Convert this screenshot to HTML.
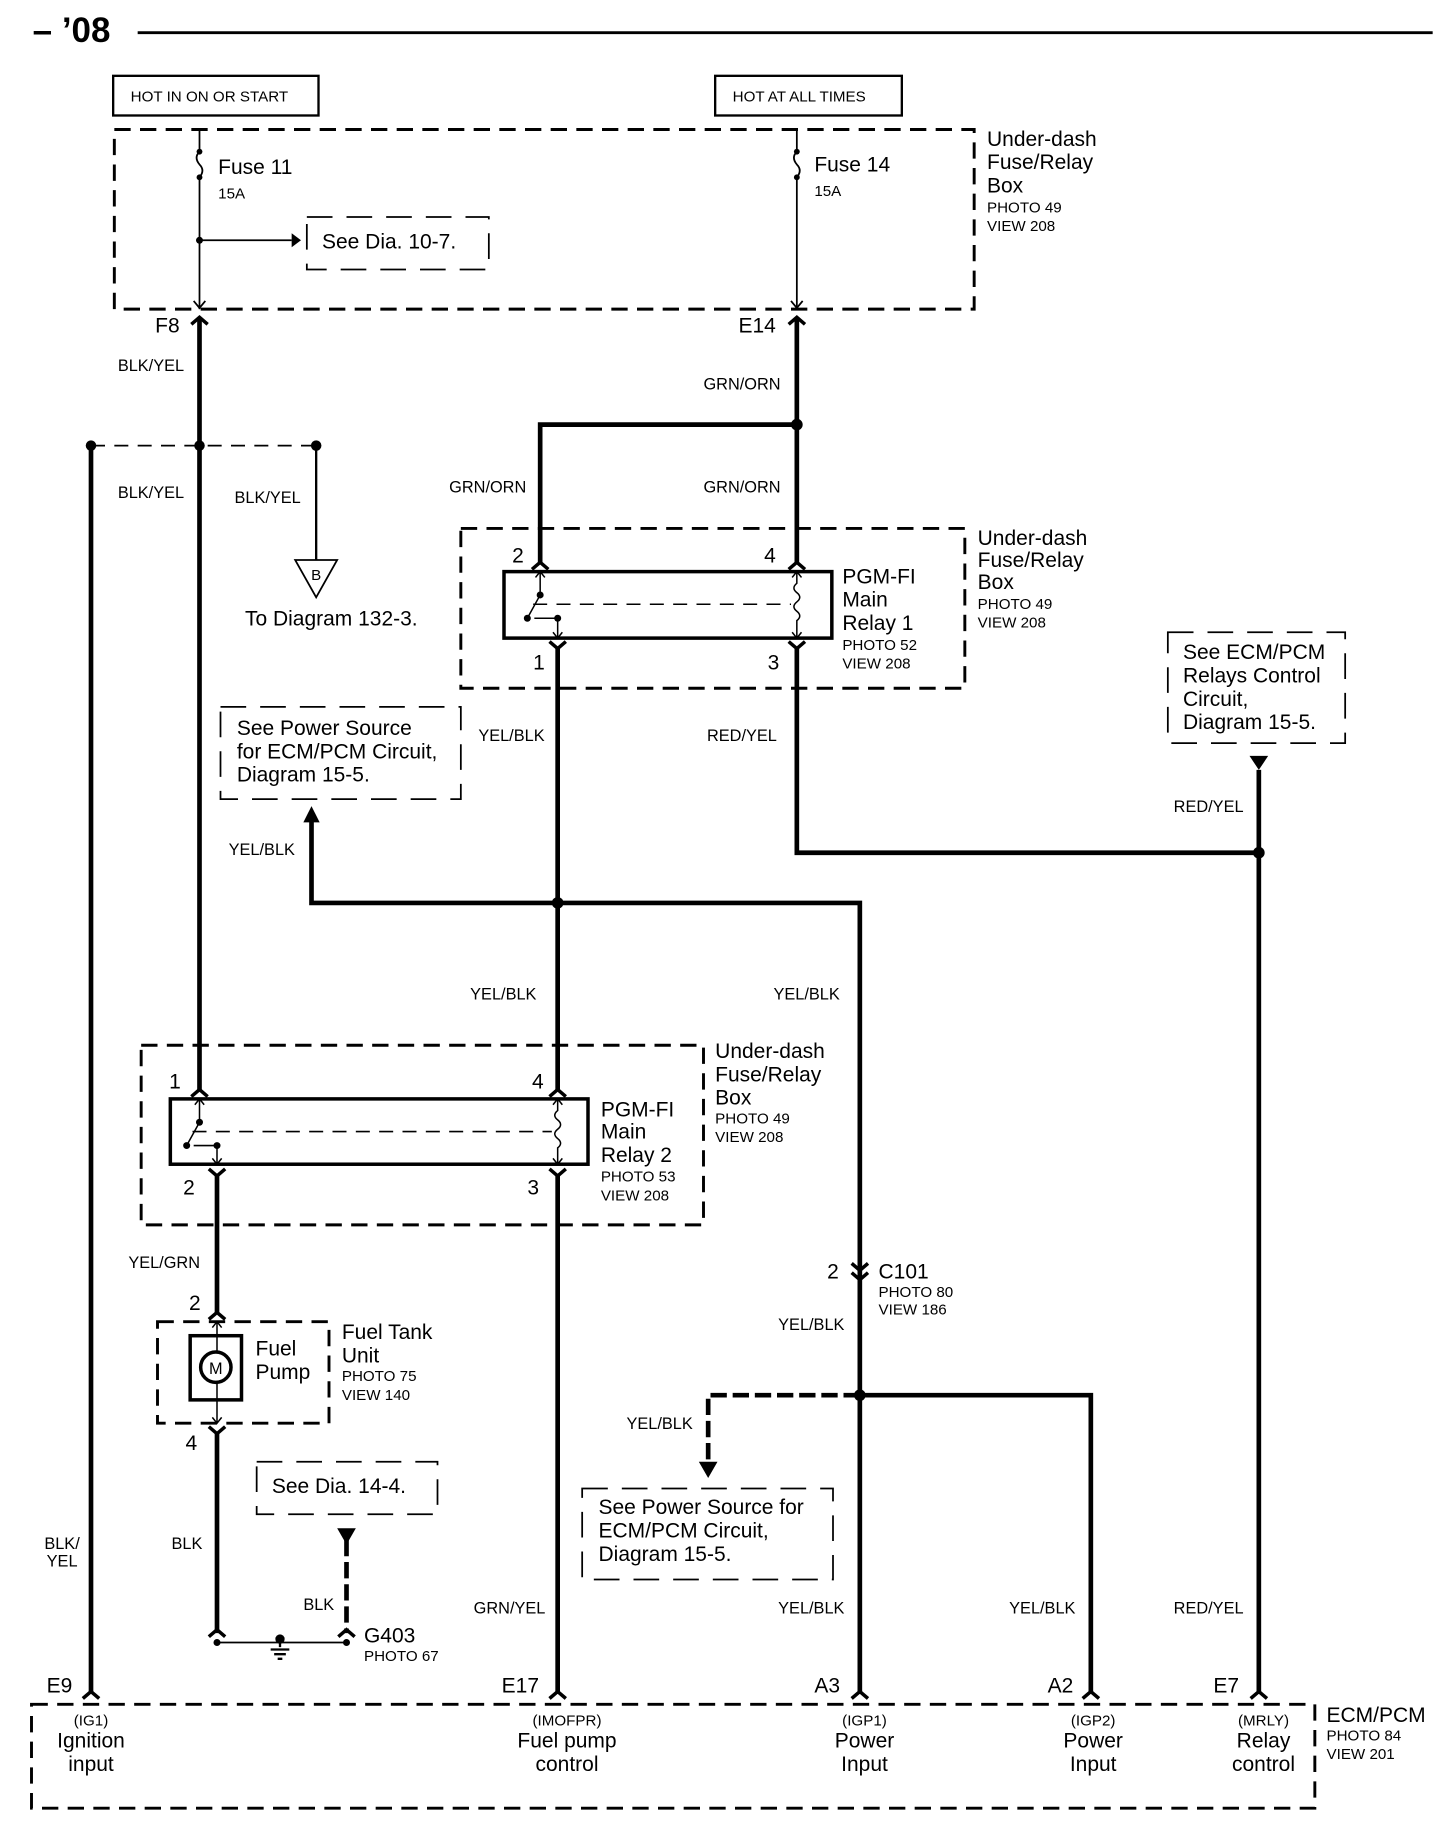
<!DOCTYPE html>
<html><head><meta charset="utf-8"><style>
html,body{margin:0;padding:0;background:#fff;}
svg{display:block;}
text{font-family:"Liberation Sans",Arial,sans-serif;fill:#000;}
.s{font-size:13px;}
.m{font-size:18px;}
.w{font-size:14px;}
</style></head><body>
<svg width="1456" height="1828" viewBox="0 0 1248 1567" preserveAspectRatio="none" xmlns="http://www.w3.org/2000/svg">
<g fill="none" stroke="#000">
<line x1="118" y1="28" x2="1228" y2="28" stroke-width="2.5"/>
<rect x="97" y="65" width="176" height="34" stroke-width="2"/>
<rect x="613" y="65" width="160" height="34" stroke-width="2"/>
<g stroke-width="2.5" stroke-dasharray="14,8">
<rect x="98" y="111" width="737" height="154"/>
<rect x="395" y="453" width="432" height="137"/>
<rect x="121" y="896" width="482" height="154"/>
<rect x="135" y="1133" width="147" height="87"/>
<rect x="27" y="1461" width="1100" height="89"/>
</g>
<g stroke-width="1.5" stroke-dasharray="22,12">
<rect x="263" y="186" width="156" height="45"/>
<rect x="189" y="606" width="206" height="79"/>
<rect x="1001" y="542" width="152" height="95"/>
<rect x="220" y="1253" width="155" height="45"/>
<rect x="499" y="1276" width="215" height="78"/>
</g>
<g stroke-width="1.5">
<path d="M171 111 V130 M171 152 V265 M171 130 q-5 5 0 11 q5 5 0 11"/>
<path d="M683 111 V130 M683 152 V265 M683 130 q-5 5 0 11 q5 5 0 11"/>
<line x1="171" y1="206" x2="250" y2="206"/>
<path d="M166 258 L171 264 L176 258 M678 258 L683 264 L688 258"/>
</g>
<g stroke-width="4">
<path d="M171 272 V935"/>
<path d="M683 272 V482"/>
<path d="M683 364 H463 V482"/>
<path d="M478 556 V935"/>
<path d="M683 556 V731 H1079"/>
<path d="M1079 660 V1450"/>
<path d="M267 704 V774 H737 V1196 H935 V1450"/>
<path d="M737 1196 V1450"/>
<path d="M478 1008 V1450"/>
<path d="M186 1008 V1125"/>
<path d="M186 1229 V1400"/>
<path d="M78 382 V1450"/>
<path d="M737 1196 H607 V1255" stroke-dasharray="14,5"/>
<path d="M297 1320 V1400" stroke-dasharray="14,5"/>
</g>
<line x1="78" y1="382" x2="271" y2="382" stroke-width="1.5" stroke-dasharray="12,8"/>
<line x1="271" y1="382" x2="271" y2="480" stroke-width="2"/>
<polygon points="253,480 289,480 271,512" stroke-width="1.5"/>
<line x1="186" y1="1408" x2="297" y2="1408" stroke-width="1.5"/>
<rect x="432" y="490" width="281" height="57" stroke-width="3"/>
<g stroke-width="1.3">
<path d="M463 490 V510 M459 495 L463 490 L467 495"/>
<path d="M478 532 V547 M474 542 L478 547 L482 542"/>
<path d="M463 510 L452 530 M458 530 H478"/>
<path d="M683 490 V500 q-5 4 0 8 q5 4 0 8 q-5 4 0 8 q5 4 0 8 V547 M679 495 L683 490 L687 495 M679 542 L683 547 L687 542"/>
<line x1="457" y1="518" x2="678" y2="518" stroke-dasharray="12,8"/>
<path d="M171 942 V962 M167 947 L171 942 L175 947"/>
<path d="M186 984 V998 M182 993 L186 998 L190 993"/>
<path d="M171 962 L160 982 M166 982 H186"/>
<path d="M478 942 V952 q-5 4 0 8 q5 4 0 8 q-5 4 0 8 q5 4 0 8 V998 M474 947 L478 942 L482 947 M474 993 L478 998 L482 993"/>
<line x1="165" y1="970" x2="473" y2="970" stroke-dasharray="12,8"/>
<path d="M186 1133 V1220 M182 1138 L186 1133 L190 1138 M182 1215 L186 1220 L190 1215"/>
</g>
<rect x="146" y="942" width="358" height="56" stroke-width="3"/>
<rect x="163" y="1145" width="44" height="55" stroke-width="3"/>
<circle cx="185" cy="1172" r="13" stroke-width="3" fill="#fff"/>
<g stroke-width="3">
<path d="M164 278 L171 272 L178 278 M676 278 L683 272 L690 278"/>
<path d="M456 488 L463 482 L470 488 M676 488 L683 482 L690 488"/>
<path d="M471 550 L478 556 L485 550 M676 550 L683 556 L690 550"/>
<path d="M164 940 L171 934 L178 940 M471 940 L478 934 L485 940"/>
<path d="M179 1002 L186 1008 L193 1002 M471 1002 L478 1008 L485 1002"/>
<path d="M179 1131 L186 1125 L193 1131 M179 1223 L186 1229 L193 1223"/>
<path d="M179 1403 L186 1397 L193 1403 M290 1403 L297 1397 L304 1403"/>
<path d="M730 1083 L737 1089 L744 1083 M730 1091 L737 1097 L744 1091"/>
<path d="M71 1456 L78 1450 L85 1456 M471 1456 L478 1450 L485 1456 M730 1456 L737 1450 L744 1456 M928 1456 L935 1450 L942 1456 M1072 1456 L1079 1450 L1086 1456"/>
</g>
<path d="M240 1402 V1412 M232 1414 H248 M235 1418 H245 M238 1422 H242" stroke-width="2"/>
</g>
<g fill="#000">
<polygon points="250,200 258,206 250,212"/>
<polygon points="260,705 274,705 267,691"/>
<polygon points="1071,648 1087,648 1079,660"/>
<polygon points="599,1253 615,1253 607,1267"/>
<polygon points="289,1310 305,1310 297,1324"/>
<circle cx="171" cy="206" r="3"/><circle cx="171" cy="130" r="2.5"/><circle cx="171" cy="152" r="2.5"/>
<circle cx="683" cy="130" r="2.5"/><circle cx="683" cy="152" r="2.5"/>
<circle cx="78" cy="382" r="4.5"/><circle cx="171" cy="382" r="4.5"/><circle cx="271" cy="382" r="4.5"/>
<circle cx="683" cy="364" r="5"/><circle cx="478" cy="774" r="5"/><circle cx="1079" cy="731" r="5"/><circle cx="737" cy="1196" r="5"/>
<circle cx="463" cy="510" r="3"/><circle cx="452" cy="530" r="3"/><circle cx="478" cy="530" r="3"/>
<circle cx="171" cy="962" r="3"/><circle cx="160" cy="982" r="3"/><circle cx="186" cy="982" r="3"/>
<circle cx="186" cy="1408" r="3"/><circle cx="297" cy="1408" r="3"/><circle cx="240" cy="1405" r="4"/>
</g>
<text x="28" y="36" style="font-size:30px;font-weight:bold">– ’08</text>
<text x="112" y="87" class="s">HOT IN ON OR START</text>
<text x="628" y="87" class="s">HOT AT ALL TIMES</text>
<text x="846" y="125" class="m">Under-dash</text><text x="846" y="145" class="m">Fuse/Relay</text><text x="846" y="165" class="m">Box</text>
<text x="846" y="182" class="s">PHOTO 49</text><text x="846" y="198" class="s">VIEW 208</text>
<text x="187" y="149" class="m">Fuse 11</text><text x="187" y="170" class="s">15A</text>
<text x="698" y="147" class="m">Fuse 14</text><text x="698" y="168" class="s">15A</text>
<text x="276" y="213" class="m">See Dia. 10-7.</text>
<text x="133" y="285" class="m">F8</text><text x="633" y="285" class="m">E14</text>
<text x="101" y="318" class="w">BLK/YEL</text><text x="603" y="334" class="w">GRN/ORN</text>
<text x="101" y="427" class="w">BLK/YEL</text><text x="201" y="431" class="w">BLK/YEL</text>
<text x="385" y="422" class="w">GRN/ORN</text><text x="603" y="422" class="w">GRN/ORN</text>
<text x="271" y="497" class="s" text-anchor="middle">B</text>
<text x="210" y="536" class="m">To Diagram 132-3.</text>
<text x="439" y="482" class="m">2</text><text x="655" y="482" class="m">4</text>
<text x="457" y="574" class="m">1</text><text x="658" y="574" class="m">3</text>
<text x="722" y="500" class="m">PGM-FI</text><text x="722" y="520" class="m">Main</text><text x="722" y="540" class="m">Relay 1</text>
<text x="722" y="557" class="s">PHOTO 52</text><text x="722" y="573" class="s">VIEW 208</text>
<text x="838" y="467" class="m">Under-dash</text><text x="838" y="486" class="m">Fuse/Relay</text><text x="838" y="505" class="m">Box</text>
<text x="838" y="522" class="s">PHOTO 49</text><text x="838" y="538" class="s">VIEW 208</text>
<text x="1014" y="565" class="m">See ECM/PCM</text><text x="1014" y="585" class="m">Relays Control</text><text x="1014" y="605" class="m">Circuit,</text><text x="1014" y="625" class="m">Diagram 15-5.</text>
<text x="203" y="630" class="m">See Power Source</text><text x="203" y="650" class="m">for ECM/PCM Circuit,</text><text x="203" y="670" class="m">Diagram 15-5.</text>
<text x="410" y="635" class="w">YEL/BLK</text><text x="606" y="635" class="w">RED/YEL</text><text x="1006" y="696" class="w">RED/YEL</text>
<text x="196" y="733" class="w">YEL/BLK</text>
<text x="403" y="857" class="w">YEL/BLK</text><text x="663" y="857" class="w">YEL/BLK</text>
<text x="145" y="933" class="m">1</text><text x="456" y="933" class="m">4</text>
<text x="157" y="1024" class="m">2</text><text x="452" y="1024" class="m">3</text>
<text x="515" y="957" class="m">PGM-FI</text><text x="515" y="976" class="m">Main</text><text x="515" y="996" class="m">Relay 2</text>
<text x="515" y="1013" class="s">PHOTO 53</text><text x="515" y="1029" class="s">VIEW 208</text>
<text x="613" y="907" class="m">Under-dash</text><text x="613" y="927" class="m">Fuse/Relay</text><text x="613" y="947" class="m">Box</text>
<text x="613" y="963" class="s">PHOTO 49</text><text x="613" y="979" class="s">VIEW 208</text>
<text x="110" y="1087" class="w">YEL/GRN</text>
<text x="162" y="1123" class="m">2</text><text x="159" y="1243" class="m">4</text>
<text x="219" y="1162" class="m">Fuel</text><text x="219" y="1182" class="m">Pump</text>
<text x="185" y="1178" text-anchor="middle" style="font-size:14px">M</text>
<text x="293" y="1148" class="m">Fuel Tank</text><text x="293" y="1168" class="m">Unit</text>
<text x="293" y="1184" class="s">PHOTO 75</text><text x="293" y="1200" class="s">VIEW 140</text>
<text x="709" y="1096" class="m">2</text><text x="753" y="1096" class="m">C101</text>
<text x="753" y="1112" class="s">PHOTO 80</text><text x="753" y="1127" class="s">VIEW 186</text>
<text x="667" y="1140" class="w">YEL/BLK</text><text x="537" y="1225" class="w">YEL/BLK</text>
<text x="233" y="1280" class="m">See Dia. 14-4.</text>
<text x="513" y="1298" class="m">See Power Source for</text><text x="513" y="1318" class="m">ECM/PCM Circuit,</text><text x="513" y="1338" class="m">Diagram 15-5.</text>
<text x="38" y="1328" class="w">BLK/</text><text x="40" y="1343" class="w">YEL</text>
<text x="147" y="1328" class="w">BLK</text><text x="260" y="1380" class="w">BLK</text>
<text x="312" y="1408" class="m">G403</text><text x="312" y="1424" class="s">PHOTO 67</text>
<text x="406" y="1383" class="w">GRN/YEL</text><text x="667" y="1383" class="w">YEL/BLK</text><text x="865" y="1383" class="w">YEL/BLK</text><text x="1006" y="1383" class="w">RED/YEL</text>
<text x="40" y="1451" class="m">E9</text><text x="430" y="1451" class="m">E17</text><text x="698" y="1451" class="m">A3</text><text x="898" y="1451" class="m">A2</text><text x="1040" y="1451" class="m">E7</text>
<g text-anchor="middle">
<text x="78" y="1479" class="s">(IG1)</text><text x="78" y="1498" class="m">Ignition</text><text x="78" y="1518" class="m">input</text>
<text x="486" y="1479" class="s">(IMOFPR)</text><text x="486" y="1498" class="m">Fuel pump</text><text x="486" y="1518" class="m">control</text>
<text x="741" y="1479" class="s">(IGP1)</text><text x="741" y="1498" class="m">Power</text><text x="741" y="1518" class="m">Input</text>
<text x="937" y="1479" class="s">(IGP2)</text><text x="937" y="1498" class="m">Power</text><text x="937" y="1518" class="m">Input</text>
<text x="1083" y="1479" class="s">(MRLY)</text><text x="1083" y="1498" class="m">Relay</text><text x="1083" y="1518" class="m">control</text>
</g>
<text x="1137" y="1476" class="m">ECM/PCM</text><text x="1137" y="1492" class="s">PHOTO 84</text><text x="1137" y="1508" class="s">VIEW 201</text>
</svg>
</body></html>
